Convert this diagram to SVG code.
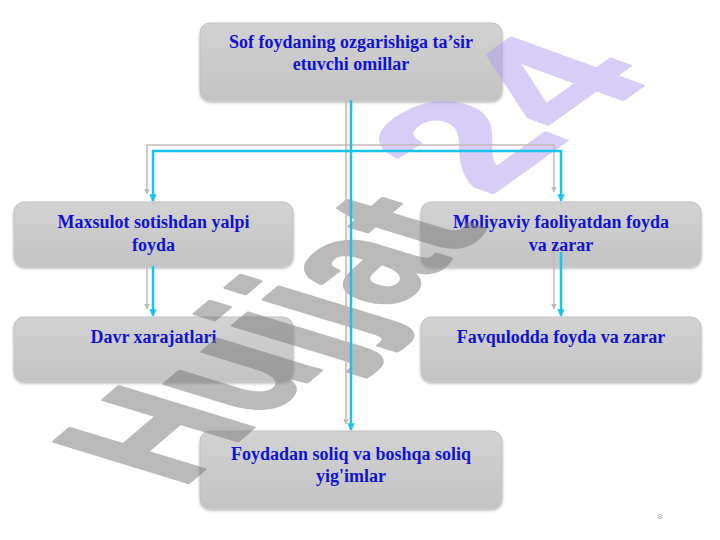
<svg xmlns="http://www.w3.org/2000/svg" width="720" height="540" viewBox="0 0 720 540">
<defs>
<linearGradient id="boxg" x1="0" y1="0" x2="0" y2="1">
<stop offset="0" stop-color="#d2d2d2"/>
<stop offset="0.6" stop-color="#c9c9c9"/>
<stop offset="1" stop-color="#c4c4c4"/>
</linearGradient>
<filter id="sh" x="-10%" y="-10%" width="120%" height="130%">
<feGaussianBlur in="SourceAlpha" stdDeviation="1.5"/>
<feOffset dx="0" dy="2" result="b"/>
<feComponentTransfer><feFuncA type="linear" slope="0.3"/></feComponentTransfer>
<feMerge><feMergeNode/><feMergeNode in="SourceGraphic"/></feMerge>
</filter>
<marker id="ac" viewBox="0 0 10 10" refX="9" refY="5" markerWidth="3" markerHeight="3" orient="auto" markerUnits="strokeWidth">
<path d="M0,0 L10,5 L0,10 z" fill="#19c3ea"/>
</marker>
<marker id="ag" viewBox="0 0 10 10" refX="9" refY="5" markerWidth="4" markerHeight="4" orient="auto" markerUnits="strokeWidth">
<path d="M0,0 L10,5 L0,10 z" fill="#c4b8b8"/>
</marker>
</defs>
<style>
.box{fill:url(#boxg);stroke:#c0c0c0;stroke-width:1;filter:url(#sh)}
.t{font-family:"Liberation Serif","Times New Roman",serif;font-weight:bold;font-size:18px;fill:#1212d6;text-anchor:middle}
.g{fill:none;stroke:#c4b8b8;stroke-width:1.5}
.c{fill:none;stroke:#19c3ea;stroke-width:2.5}
.wm{font-family:"Liberation Sans",Arial,sans-serif;font-weight:bold;opacity:0.5;stroke-linejoin:round}
.wg{fill:#767676;stroke:#767676;stroke-width:3}
.wp{fill:#b29cf0;stroke:#b29cf0;stroke-width:3}
</style>

<g id="n-top">
<rect class="box" x="200" y="23" width="302" height="77" rx="10"/>
<text class="t" x="351" y="48">Sof foydaning ozgarishiga ta’sir</text>
<text class="t" x="351" y="70">etuvchi omillar</text>
</g>
<g id="n-maxsulot">
<rect class="box" x="14" y="202" width="279" height="64" rx="10"/>
<text class="t" x="153.5" y="228">Maxsulot sotishdan yalpi</text>
<text class="t" x="153.5" y="251">foyda</text>
</g>
<g id="n-moliyaviy">
<rect class="box" x="421" y="202" width="280" height="64" rx="10"/>
<text class="t" x="561" y="228">Moliyaviy faoliyatdan foyda</text>
<text class="t" x="561" y="251">va zarar</text>
</g>
<g id="n-davr">
<rect class="box" x="14" y="317" width="279" height="64" rx="10"/>
<text class="t" x="153.5" y="343">Davr xarajatlari</text>
</g>
<g id="n-favqulodda">
<rect class="box" x="421" y="317" width="280" height="64" rx="10"/>
<text class="t" x="561" y="343">Favqulodda foyda va zarar</text>
</g>
<g id="n-soliq">
<rect class="box" x="200" y="431" width="302" height="77" rx="10"/>
<text class="t" x="351" y="460">Foydadan soliq va boshqa soliq</text>
<text class="t" x="351" y="482">yig'imlar</text>
</g>

<g id="watermark">
<text class="wm wg" font-size="145" transform="matrix(0.762 -0.648 1.344 0.411 181 489)">Hujjat</text>
<text class="wm wp" font-size="188" transform="matrix(0.812 -0.584 1.02 0.371 488 197)">24</text>
</g>

<g id="connectors">
<path class="g" d="M346,100 V424" marker-end="url(#ag)"/>
<path class="g" d="M147,192 V145 H554 V192" marker-end="url(#ag)"/>
<path class="g" d="M147,192 V194" marker-end="url(#ag)"/>
<path class="g" d="M147,266 V309" marker-end="url(#ag)"/>
<path class="g" d="M554,252 V309" marker-end="url(#ag)"/>
<path class="c" d="M351,100 V430" marker-end="url(#ac)"/>
<path class="c" d="M153,201 V151 H561 V201" marker-end="url(#ac)"/>
<path class="c" d="M153,196 V201" marker-end="url(#ac)"/>
<path class="c" d="M153,266 V316" marker-end="url(#ac)"/>
<path class="c" d="M561,252 V316" marker-end="url(#ac)"/>
</g>

<text x="660" y="519" font-family="Liberation Sans, Arial, sans-serif" font-size="8" fill="#a8a8a8" text-anchor="middle">8</text>
</svg>
